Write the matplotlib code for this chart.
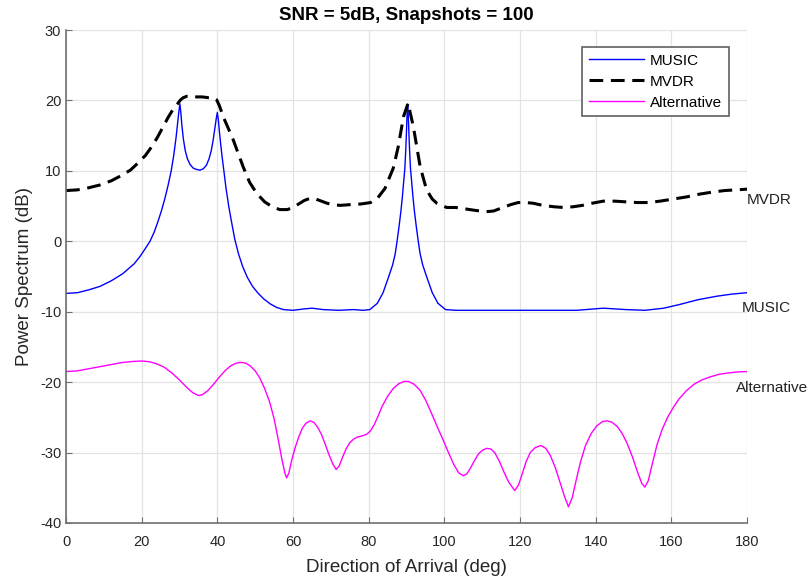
import matplotlib
matplotlib.use("Agg")
import matplotlib.pyplot as plt

plt.rcParams['font.family'] = ['Liberation Sans', 'DejaVu Sans']
plt.rcParams['axes.unicode_minus'] = False

# MUSIC spectrum (deg, dB)
music_deg = [0, 3, 6, 9, 12, 15, 18, 19.5, 21, 22.2, 23.3, 24.3, 25.2, 26.1, 27.0, 27.8,
             28.5, 29.1, 29.5, 29.8, 30.1, 30.35, 30.6, 31.0, 31.5, 32.1, 32.8, 33.6, 34.5,
             35.4, 36.3, 37.1, 37.8, 38.4, 38.9, 39.3, 39.7, 40.0, 40.25, 40.5, 40.9, 41.3,
             41.7, 42.3, 43.0, 43.8, 44.6, 45.6, 46.7, 47.9, 49.3, 50.8, 52.3, 54, 55.7, 57.5,
             60, 63, 65, 68, 72, 76, 78.5, 80.3, 82.3, 83.8, 85.3, 86.3, 87.0, 87.5, 88.0,
             88.5, 88.9, 89.3, 89.55, 89.8, 90.0, 90.15, 90.3, 90.45, 90.6, 90.8, 91.05, 91.3,
             91.7, 92.1, 92.6, 93.1, 93.6, 94.3, 95.3, 96.8, 98.3, 100.3, 103, 110, 120, 125,
             130, 135, 142, 148, 153, 158, 162, 167, 172, 176, 180]
music_db = [-7.4, -7.3, -6.9, -6.4, -5.6, -4.6, -3.2, -2.2, -1.0, 0.0, 1.3, 2.8, 4.3, 6.0, 8.0, 10.0,
            12.3, 14.8, 16.8, 18.3, 19.5, 18.3, 16.6, 14.6, 12.9, 11.7, 10.9, 10.4, 10.2,
            10.1, 10.3, 10.8, 11.7, 12.9, 14.4, 15.9, 17.4, 18.3, 17.3, 15.8, 13.7, 11.8,
            10.1, 7.5, 5.0, 2.6, 0.3, -1.8, -3.6, -5.1, -6.4, -7.4, -8.2, -8.9, -9.4, -9.7,
            -9.8, -9.6, -9.5, -9.7, -9.8, -9.7, -9.8, -9.7, -8.8, -7.3, -5.0, -3.4, -1.8, 0.0, 2.0,
            4.2, 6.3, 8.8, 10.3, 13.0, 15.8, 18.0, 19.5, 18.0, 15.8, 13.0, 10.3, 8.8,
            6.3, 4.2, 2.0, 0.0, -1.8, -3.4, -5.0, -7.3, -8.8, -9.7, -9.8, -9.8, -9.8, -9.8,
            -9.8, -9.8, -9.5, -9.7, -9.8, -9.5, -9.0, -8.3, -7.8, -7.5, -7.3]

# MVDR spectrum
mvdr_deg = [0, 3, 6, 9, 12, 14.5, 17, 19, 21, 22.6, 24.2, 25.7, 27, 27.9, 28.8, 29.6, 30.3,
            31, 32, 33, 34.5, 36, 37.5, 39, 39.8, 40.5, 41.1, 41.7, 43, 44.2, 45.5, 46.8,
            48.5, 50.4, 52.5, 54.5, 56.5, 58.5, 60, 61.5, 63, 64.5, 66, 67.5, 69, 70.5, 72.5,
            75, 78, 80.5, 82.3, 84.3, 86.5, 87.8, 89.2, 90.4, 91.8, 93.6, 95.3, 96.8, 98,
            100.6, 103, 105.5, 108, 111, 113, 115, 117.5, 119.5, 121.5, 123.5, 126, 129,
            131.5, 134, 136.5, 139, 142, 145, 148, 151, 154, 157, 160.5, 164, 167.5, 171,
            174, 177, 180]
mvdr_db = [7.2, 7.3, 7.6, 8.0, 8.6, 9.3, 10.1, 11.1, 12.2, 13.4, 14.8, 16.3, 17.6, 18.4, 19.1, 19.6, 20.1,
           20.4, 20.6, 20.6, 20.5, 20.5, 20.4, 20.4, 20.1, 19.3, 18.4, 17.5, 15.9, 14.4, 12.5, 10.6,
           8.4, 6.8, 5.6, 4.9, 4.5, 4.5, 4.8, 5.3, 5.8, 6.1, 6.0, 5.7, 5.4, 5.2, 5.1,
           5.2, 5.3, 5.5, 6.1, 7.5, 10.4, 13.4, 17.7, 19.6, 16.3, 10.6, 7.3, 6.0, 5.4,
           4.8, 4.8, 4.6, 4.4, 4.2, 4.3, 4.7, 5.2, 5.5, 5.5, 5.4, 5.1, 4.9,
           4.8, 4.9, 5.1, 5.4, 5.7, 5.7, 5.6, 5.5, 5.5, 5.7, 6.0, 6.3, 6.7, 7.0,
           7.2, 7.3, 7.4]

# Alternative spectrum
alt_deg = [0, 3, 6, 9, 12, 15, 18, 20, 22, 24, 26, 28, 30, 32, 33.5, 35, 36, 37.5, 39, 40.5,
           42, 43.5, 45, 46.3, 47.5, 48.7, 50, 51.2, 52.5, 53.8, 55, 56, 57, 57.8, 58.3, 58.9,
           59.6, 60.5, 61.5, 62.5, 63.5, 64.5, 65.5, 66.5, 67.5, 68.5, 69.5, 70.5, 71.4, 72.2,
           73, 74, 75, 76, 77, 78.5, 79.5, 80.5, 81.5, 82.5, 83.5, 85, 86.5, 88, 89.5, 90.5,
           92, 93.5, 95, 96.5, 98, 99.5, 101, 102.5, 103.8, 105, 106, 107, 108, 109, 110,
           111.2, 112.3, 113.3, 114.5, 115.7, 117, 118.6, 119.6, 120.6, 121.6, 122.7, 124,
           125.5, 126.8, 128, 129.3, 130.6, 131.8, 132.8, 133.8, 134.8, 136, 137.3, 138.8,
           140.3, 141.8, 143, 144.3, 145.7, 147, 148.3, 149.7, 151, 152.2, 153, 153.9, 155,
           156.2, 157.5, 159, 160.5, 162, 164, 166, 168, 170, 172.5, 175, 177.5, 180]
alt_db = [-18.5, -18.4, -18.1, -17.8, -17.5, -17.2, -17.05, -17.0, -17.1, -17.4, -17.9, -18.7,
          -19.7, -20.8, -21.5, -21.9, -21.8, -21.2, -20.3, -19.3, -18.4, -17.7, -17.3, -17.2,
          -17.3, -17.7, -18.4, -19.4, -20.9, -22.8, -25.2, -27.9, -30.8, -32.8, -33.6, -32.9,
          -31.2, -29.4, -27.8, -26.5, -25.8, -25.5, -25.7, -26.4, -27.4, -28.8, -30.3, -31.6,
          -32.4, -31.9, -30.8, -29.5, -28.6, -28.1, -27.8, -27.6, -27.4, -26.9, -26.0, -24.8,
          -23.5, -22.0, -20.9, -20.2, -19.9, -19.9, -20.3, -21.1, -22.5, -24.3, -26.2, -28.0,
          -29.9, -31.7, -32.9, -33.3, -33.0, -32.1, -31.1, -30.2, -29.7, -29.4, -29.5, -30.0,
          -31.2, -32.7, -34.2, -35.4, -34.6, -33.0, -31.3, -30.0, -29.3, -29.0, -29.4, -30.4,
          -32.1, -34.3, -36.3, -37.7, -36.4, -34.0, -31.3, -29.0, -27.3, -26.2, -25.6, -25.5,
          -25.7, -26.3, -27.3, -28.7, -30.6, -32.7, -34.4, -34.9, -34.0, -31.5, -28.9, -26.8,
          -25.0, -23.6, -22.4, -21.2, -20.3, -19.7, -19.3, -18.9, -18.7, -18.55, -18.5]

fig = plt.figure(figsize=(8.12, 5.84), dpi=100)
ax = fig.add_axes([0.0813, 0.1045, 0.8387, 0.8441])

ax.plot(music_deg, music_db, color="#0000ff", lw=1.0, label="MUSIC")
ax.plot(mvdr_deg, mvdr_db, color="black", lw=2.2, ls=(0, (4.5, 2.5)), label="MVDR")
ax.plot(alt_deg, alt_db, color="#ff00ff", lw=1.0, label="Alternative")

ax.text(180, 5.9, "MVDR", fontsize=11, va="center", ha="left", color="#222222")
ax.text(178.7, -9.5, "MUSIC", fontsize=11, va="center", ha="left", color="#222222")
ax.text(177.1, -20.8, "Alternative", fontsize=11, va="center", ha="left", color="#222222")

ax.set_xlim(0, 180)
ax.set_ylim(-40, 30)
ax.set_xticks(range(0, 181, 20))
ax.set_yticks(range(-40, 31, 10))
ax.grid(True, color="#e3e3e3", lw=0.9)
ax.set_axisbelow(True)
for s in ["top", "right"]:
    ax.spines[s].set_visible(False)
for s in ["left", "bottom"]:
    ax.spines[s].set_color("#707070")
    ax.spines[s].set_linewidth(1.2)
ax.tick_params(direction="in", length=4, colors="#707070", labelcolor="#262626", labelsize=10.5)
ax.tick_params(axis="x", pad=9)

ax.set_xlabel("Direction of Arrival (deg)", fontsize=13.5, color="#262626", labelpad=7)
ax.set_ylabel("Power Spectrum (dB)", fontsize=13.5, color="#262626", labelpad=5)
ax.set_title("SNR = 5dB, Snapshots = 100", fontsize=13.5, fontweight="bold", pad=7)

leg = ax.legend(loc="upper right", bbox_to_anchor=(0.98, 0.975), fontsize=11,
                handlelength=3.6, fancybox=False, framealpha=1, edgecolor="#606060",
                borderpad=0.45, labelspacing=0.45, handletextpad=0.4, borderaxespad=0.3)
leg.get_frame().set_linewidth(1.2)

plt.savefig("out.png", dpi=100)
